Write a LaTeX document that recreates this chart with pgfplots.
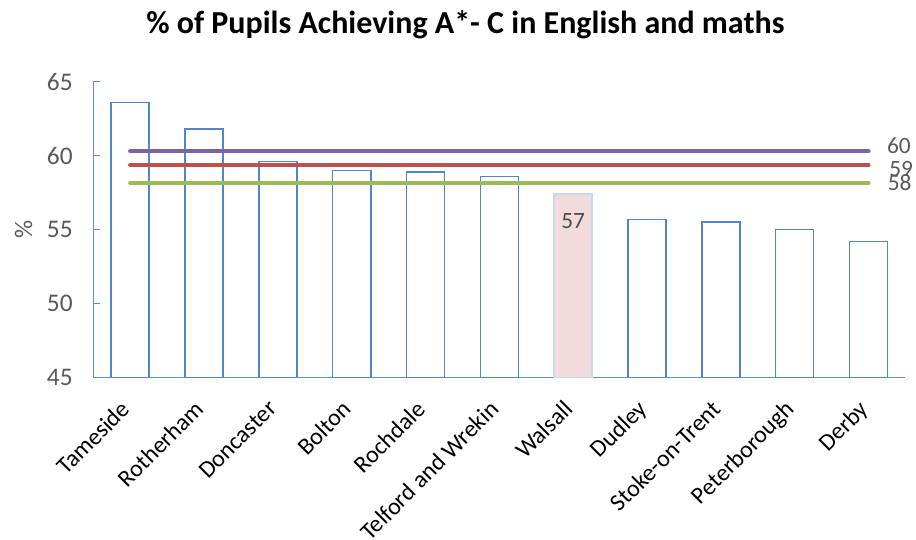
\documentclass[border=0pt]{standalone}
\usepackage{pgfplots}
\pgfplotsset{compat=1.18}
\usepackage{fontspec}
\setmainfont{Carlito}
\usetikzlibrary{calc}
\definecolor{barblue}{RGB}{79,134,204}
\definecolor{axblue}{RGB}{91,143,210}
\definecolor{pinkf}{RGB}{242,220,219}
\definecolor{pinke}{RGB}{197,217,241}
\definecolor{lpurple}{RGB}{128,100,162}
\definecolor{lred}{RGB}{192,80,77}
\definecolor{lgreen}{RGB}{155,187,89}
\definecolor{tgray}{RGB}{89,89,89}
\begin{document}
\begin{tikzpicture}
\begin{axis}[
  scale only axis,
  width=609pt, height=222pt,
  xmin=-0.5, xmax=10.5,
  ymin=45, ymax=65,
  ytick={45,50,55,60,65},
  xtick={0,1,2,3,4,5,6,7,8,9,10},
  xticklabels={Tameside,Rotherham,Doncaster,Bolton,Rochdale,Telford and Wrekin,Walsall,Dudley,Stoke-on-Trent,Peterborough,Derby},
  axis lines=left,
  axis line style={-, axblue, line width=1.2pt},
  x axis line style={-},
  y axis line style={-},
  major tick length=5pt,
  ytick style={axblue, line width=1.2pt},
  xtick style={draw=none},
  tick align=inside,
  /pgf/number format/assume math mode=true,
  yticklabel style={font=\fontsize{19}{22}\selectfont, text=tgray, xshift=-12pt},
  xticklabel style={font=\fontsize{18}{20}\selectfont, anchor=north east, yshift=-6pt, xshift=-8pt, rotate=45},
  ylabel={\%},
  ylabel style={font=\fontsize{19}{22}\selectfont, text=tgray, yshift=4pt},
  clip=false,
  ybar, bar width=28.5pt,
]
\addplot[ybar, bar shift=0pt, draw=barblue, fill=white, line width=1.2pt]
 coordinates {(0,63.6) (1,61.8) (2,59.6) (3,59.0) (4,58.9) (5,58.6) (7,55.7) (8,55.5) (9,55.0) (10,54.2)};
\addplot[ybar, bar shift=0pt, draw=pinke, fill=pinkf, line width=1.2pt]
 coordinates {(6,57.4)};
\addplot[sharp plot, no marks, lpurple, line width=3.2pt, line cap=round] coordinates {(0,60.3) (10,60.3)};
\addplot[sharp plot, no marks, lred, line width=3.2pt, line cap=round] coordinates {(0,59.35) (10,59.35)};
\addplot[sharp plot, no marks, lgreen, line width=3.2pt, line cap=round] coordinates {(0,58.15) (10,58.15)};
\node[font=\fontsize{17.5}{20}\selectfont, text=tgray!85!black] at (axis cs:6,55.6) {57};
\node[font=\fontsize{17.5}{20}\selectfont, text=tgray, anchor=west, inner sep=0pt] at (axis cs:10.25,60.7) {60};
\node[font=\fontsize{17.5}{20}\selectfont, text=tgray, anchor=west, inner sep=0pt] at (axis cs:10.28,59.1) {59};
\node[font=\fontsize{17.5}{20}\selectfont, text=tgray, anchor=west, inner sep=0pt] at (axis cs:10.26,58.15) {58};
\end{axis}
\node[font=\bfseries\fontsize{24}{28}\selectfont, anchor=center] at ($(current axis.south west)+(-70pt,-121pt)+(349pt,386pt)$) {\% of Pupils Achieving A*- C in English and maths};
\pgfresetboundingbox
\path ($(current axis.south west)+(-70pt,-121pt)$) rectangle ++(687pt,404.25pt);
\end{tikzpicture}
\end{document}
